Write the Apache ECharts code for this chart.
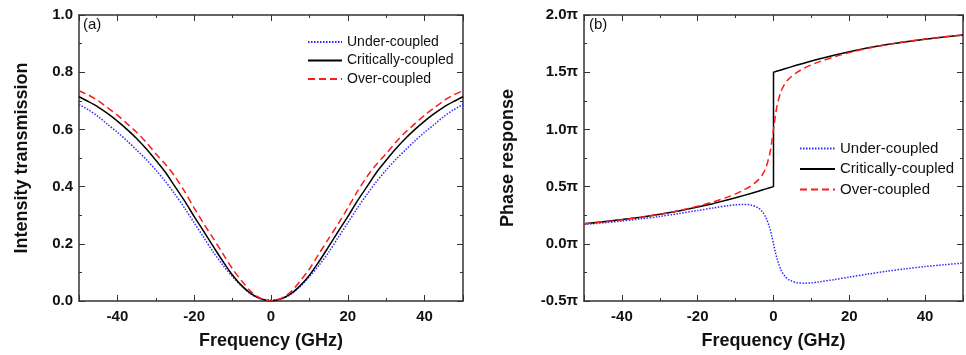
<!DOCTYPE html>
<html>
<head>
<meta charset="utf-8">
<script src="https://cdn.jsdelivr.net/npm/echarts@6/dist/echarts.min.js"></script>
<style>
  html, body { margin: 0; padding: 0; background: #fff; }
  #chart { width: 966px; height: 355px; }
</style>
</head>
<body>
<div id="chart"></div>
<script>
// panel (a): intensity transmission vs detuning (GHz)
const freqA = [-50, -47.5, -45, -42.5, -40, -37.5, -35, -32.5, -30, -27.5, -25, -22.5, -20, -17.5, -15, -12.5, -10, -7.5, -5, -2.5,
  0, 2.5, 5, 7.5, 10, 12.5, 15, 17.5, 20, 22.5, 25, 27.5, 30, 32.5, 35, 37.5, 40, 42.5, 45, 47.5, 50];
const underA = [0.687, 0.668, 0.645, 0.617, 0.590, 0.560, 0.528, 0.495, 0.458, 0.418, 0.373, 0.325, 0.273, 0.222, 0.170, 0.125, 0.085, 0.050, 0.022, 0.007,
  0.004, 0.007, 0.022, 0.050, 0.085, 0.125, 0.170, 0.222, 0.273, 0.325, 0.373, 0.418, 0.458, 0.495, 0.528, 0.560, 0.590, 0.617, 0.645, 0.668, 0.687];
const critA = [0.714, 0.697, 0.678, 0.655, 0.629, 0.600, 0.568, 0.532, 0.492, 0.450, 0.400, 0.350, 0.295, 0.243, 0.190, 0.138, 0.090, 0.052, 0.024, 0.007,
  0.000, 0.007, 0.024, 0.052, 0.090, 0.138, 0.190, 0.243, 0.295, 0.350, 0.400, 0.450, 0.492, 0.532, 0.568, 0.600, 0.629, 0.655, 0.678, 0.697, 0.714];
const overA = [0.735, 0.720, 0.700, 0.675, 0.650, 0.620, 0.590, 0.555, 0.515, 0.478, 0.435, 0.383, 0.325, 0.270, 0.218, 0.165, 0.112, 0.068, 0.030, 0.008,
  0.000, 0.008, 0.030, 0.068, 0.112, 0.165, 0.218, 0.270, 0.325, 0.383, 0.435, 0.478, 0.515, 0.555, 0.590, 0.620, 0.650, 0.675, 0.700, 0.720, 0.735];

// panel (b): phase response in units of pi (0 appears twice for the jump)
const freqB = [-50, -45, -40, -35, -30, -25, -20, -16, -12, -10, -8, -6, -4, -3, -2, -1, -0.5,
  0, 0, 0.5, 1, 2, 3, 4, 6, 8, 10, 12, 16, 20, 25, 30, 35, 40, 45, 50];
const underB = [0.169, 0.183, 0.199, 0.218, 0.239, 0.264, 0.291, 0.313, 0.333, 0.341, 0.344, 0.339, 0.313, 0.283, 0.230, 0.138, 0.073,
  0, 0, -0.073, -0.138, -0.230, -0.283, -0.313, -0.339, -0.344, -0.341, -0.333, -0.313, -0.291, -0.264, -0.239, -0.218, -0.199, -0.183, -0.169];
const critB = [0.175, 0.192, 0.212, 0.233, 0.258, 0.287, 0.321, 0.351, 0.385, 0.402, 0.421, 0.440, 0.460, 0.470, 0.480, 0.490, 0.495,
  0.5, 1.5, 1.505, 1.510, 1.520, 1.530, 1.540, 1.560, 1.579, 1.598, 1.615, 1.649, 1.679, 1.713, 1.742, 1.767, 1.788, 1.808, 1.825];
const overB = [0.175, 0.191, 0.210, 0.232, 0.258, 0.290, 0.329, 0.366, 0.410, 0.436, 0.467, 0.505, 0.559, 0.601, 0.666, 0.785, 0.881,
  1.0, 1.0, 1.119, 1.215, 1.334, 1.399, 1.441, 1.495, 1.533, 1.564, 1.590, 1.634, 1.671, 1.710, 1.742, 1.768, 1.790, 1.809, 1.825];

const names = ['Under-coupled', 'Critically-coupled', 'Over-coupled'];

const FONT = "'Liberation Sans', Arial, sans-serif";
const FRAME = '#333';
const pair = (xs, ys) => xs.map((x, i) => [x, ys[i]]);

const lineStyles = [
  { color: '#2a2aff', width: 1.5, type: [1.5, 1.5] },
  { color: '#000', width: 1.5, type: 'solid' },
  { color: '#ff1a1a', width: 1.5, type: [7, 4] },
];

// x axes: fine axis (every 10) carries the frame + labels, a second one adds the longer ticks at 20s
function xAxes(grid) {
  const base = { type: 'value', gridIndex: grid, min: -50, max: 50, splitLine: { show: false } };
  const line = { onZero: false, lineStyle: { color: FRAME, width: 1.5 } };
  return [
    {
      ...base, position: 'bottom', interval: 10, axisLine: line,
      axisTick: { inside: true, length: 3, lineStyle: { color: FRAME } },
      axisLabel: {
        formatter: v => (v % 20 === 0 ? String(v) : ''),
        color: '#111', fontSize: 15, fontWeight: 'bold', fontFamily: FONT, margin: 8,
      },
      name: 'Frequency (GHz)', nameLocation: 'middle', nameGap: 31,
      nameTextStyle: { color: '#111', fontSize: 18, fontWeight: 'bold', fontFamily: FONT },
    },
    {
      ...base, position: 'bottom', axisLine: { show: false, onZero: false },
      axisTick: { inside: true, length: 6, lineStyle: { color: FRAME } }, axisLabel: { show: false },
    },
    {
      ...base, position: 'top', interval: 10, axisLine: line,
      axisTick: { inside: true, length: 3, lineStyle: { color: FRAME } }, axisLabel: { show: false },
    },
    {
      ...base, position: 'top', axisLine: { show: false, onZero: false },
      axisTick: { inside: true, length: 6, lineStyle: { color: FRAME } }, axisLabel: { show: false },
    },
  ];
}

function yAxes(grid, min, max, interval, fmt, name, gap) {
  const base = {
    type: 'value', gridIndex: grid, min, max, interval, splitLine: { show: false },
    axisLine: { show: true, onZero: false, lineStyle: { color: FRAME, width: 1.5 } },
    axisTick: { inside: true, length: 6, lineStyle: { color: FRAME } },
    minorTick: { show: true, splitNumber: 2, length: 3, lineStyle: { color: FRAME } },
  };
  return [
    {
      ...base, position: 'left',
      axisLabel: { formatter: fmt, color: '#111', fontSize: 15, fontWeight: 'bold', fontFamily: FONT, margin: 6 },
      name, nameLocation: 'middle', nameGap: gap,
      nameTextStyle: { color: '#111', fontSize: 18, fontWeight: 'bold', fontFamily: FONT },
    },
    { ...base, position: 'right', axisLabel: { show: false } },
  ];
}

function panelSeries(xi, yi, freq, sets, panel) {
  return sets.map((ys, k) => ({
    type: 'line', name: names[k], xAxisIndex: xi, yAxisIndex: yi,
    data: pair(freq, ys), symbol: 'none', showSymbol: false,
    smooth: k === 1 && panel === 'b' ? false : 0.3,
    color: lineStyles[k].color, lineStyle: lineStyles[k], z: [2, 3, 4][k],
  }));
}

const legendBase = size => ({
  orient: 'vertical', padding: 0, data: names,
  itemStyle: { opacity: 0 },
  textStyle: { color: '#111', fontSize: size, fontFamily: FONT },
});

const chart = echarts.init(document.getElementById('chart'));
chart.setOption({
  animation: false,
  backgroundColor: '#fff',
  title: [
    { text: '(a)', left: 83, top: 17, padding: 0, textStyle: { color: '#111', fontSize: 15, fontWeight: 'normal', fontFamily: FONT } },
    { text: '(b)', left: 589, top: 17, padding: 0, textStyle: { color: '#111', fontSize: 15, fontWeight: 'normal', fontFamily: FONT } },
  ],
  legend: [
    { ...legendBase(14), left: 307, top: 35, itemWidth: 34, itemHeight: 14, itemGap: 4.5 },
    { ...legendBase(15), left: 799, top: 141, itemWidth: 35, itemHeight: 14, itemGap: 5.5 },
  ],
  grid: [
    { left: 79, top: 15, width: 384, height: 286 },
    { left: 584, top: 15, width: 385, height: 286 },
  ],
  xAxis: [...xAxes(0), ...xAxes(1)],
  yAxis: [
    ...yAxes(0, 0, 1, 0.2, v => v.toFixed(1), 'Intensity transmission', 48),
    ...yAxes(1, -0.5, 2, 0.5, v => v.toFixed(1) + 'π', 'Phase response', 67),
  ],
  series: [
    ...panelSeries(0, 0, freqA, [underA, critA, overA], 'a'),
    ...panelSeries(4, 2, freqB, [underB, critB, overB], 'b'),
  ],
});
</script>
</body>
</html>
